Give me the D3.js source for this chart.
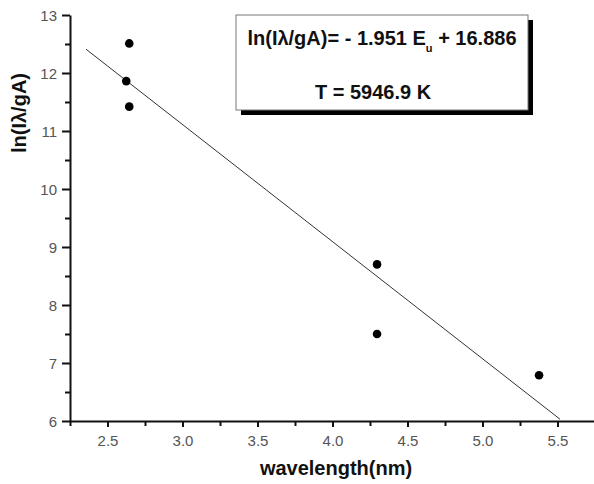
<!DOCTYPE html>
<html>
<head>
<meta charset="utf-8">
<script src="https://cdn.jsdelivr.net/npm/d3@7"></script>
<style>
  html, body { margin: 0; padding: 0; background: #fff; }
  svg { display: block; font-family: "Liberation Sans", Arial, sans-serif; }
</style>
</head>
<body>
<svg id="chart" width="594" height="484"></svg>
<script>
// ---- data ----
const pointX = [2.645, 2.625, 2.645, 4.297, 4.297, 5.377];
const pointY = [12.51, 11.86, 11.42, 8.70, 7.50, 6.79];
const fitX = [2.357, 5.517];
const fitY = [12.41, 6.03];
const xTicks = [2.5, 3.0, 3.5, 4.0, 4.5, 5.0, 5.5];
const yTicks = [6, 7, 8, 9, 10, 11, 12, 13];
const xLabel = "wavelength(nm)";
const yLabel = "ln(Iλ/gA)";
const eqMain = "ln(Iλ/gA)= - 1.951 E";
const eqSub = "u";
const eqTail = " + 16.886";
const tempText = "T = 5946.9 K";

const svg = d3.select("#chart");
const x = d3.scaleLinear().domain([2.25, 5.75]).range([70, 595]);
const y = d3.scaleLinear().domain([6, 13]).range([421, 15]);

// minor ticks
const xMinor = d3.range(2.25, 5.75, 0.25).filter(v => Math.abs(v * 2 - Math.round(v * 2)) > 1e-6);
const yMinor = d3.range(6.5, 13, 1);

const gx = svg.append("g").attr("transform", "translate(0,421)");
gx.call(d3.axisBottom(x).tickValues(xTicks).tickFormat(d3.format(".1f")).tickSize(6).tickSizeOuter(0));
gx.append("g").call(d3.axisBottom(x).tickValues(xMinor).tickFormat("").tickSize(5).tickSizeOuter(0))
  .select(".domain").remove();

const gy = svg.append("g").attr("transform", "translate(70,0)");
gy.call(d3.axisLeft(y).tickValues(yTicks).tickFormat(d3.format("d")).tickSize(8).tickSizeOuter(0));
gy.append("g").call(d3.axisLeft(y).tickValues(yMinor).tickFormat("").tickSize(5).tickSizeOuter(0))
  .select(".domain").remove();

svg.selectAll(".domain").attr("stroke", "#111").attr("stroke-width", 2);
svg.selectAll(".tick line").attr("stroke", "#111").attr("stroke-width", 2);
svg.selectAll(".tick text").attr("fill", "#555").attr("font-size", 15)
  .attr("font-family", "'Liberation Sans', Arial, sans-serif");
gx.selectAll(".tick text").attr("dy", "1.0em").attr("y", 10);
gy.selectAll(".tick text").attr("x", -13).attr("dy", "0.35em");

// fit line
const lineData = fitX.map((v, i) => [v, fitY[i]]);
svg.append("path")
  .datum(lineData)
  .attr("d", d3.line().x(d => x(d[0])).y(d => y(d[1])))
  .attr("stroke", "#333").attr("stroke-width", 1).attr("fill", "none");

// points
svg.append("g").selectAll("circle")
  .data(pointX.map((v, i) => [v, pointY[i]]))
  .join("circle")
  .attr("cx", d => x(d[0])).attr("cy", d => y(d[1]))
  .attr("r", 4.3).attr("fill", "#000");

// axis labels
svg.append("text")
  .attr("x", 336).attr("y", 475)
  .attr("text-anchor", "middle").attr("font-weight", "bold").attr("font-size", 20)
  .attr("fill", "#111").text(xLabel);
svg.append("text")
  .attr("transform", "translate(26,113) rotate(-90)")
  .attr("text-anchor", "middle").attr("font-weight", "bold").attr("font-size", 20)
  .attr("fill", "#111").text(yLabel);

// annotation box
const box = { x0: 236, y0: 15, x1: 528, y1: 110 };
svg.append("rect")
  .attr("x", box.x0 + 5).attr("y", box.y0 + 5)
  .attr("width", box.x1 - box.x0).attr("height", box.y1 - box.y0)
  .attr("fill", "#000");
svg.append("rect")
  .attr("x", box.x0).attr("y", box.y0)
  .attr("width", box.x1 - box.x0).attr("height", box.y1 - box.y0)
  .attr("fill", "#fff").attr("stroke", "#777").attr("stroke-width", 1);

const eq = svg.append("text")
  .attr("x", 382).attr("y", 45)
  .attr("text-anchor", "middle").attr("font-weight", "bold").attr("font-size", 20)
  .attr("fill", "#111");
eq.append("tspan").text(eqMain);
eq.append("tspan").attr("font-size", 11).attr("dy", 7).text(eqSub);
eq.append("tspan").attr("dy", -7).text(eqTail);

svg.append("text")
  .attr("x", 373).attr("y", 99)
  .attr("text-anchor", "middle").attr("font-weight", "bold").attr("font-size", 20)
  .attr("fill", "#111").text(tempText);
</script>
</body>
</html>
